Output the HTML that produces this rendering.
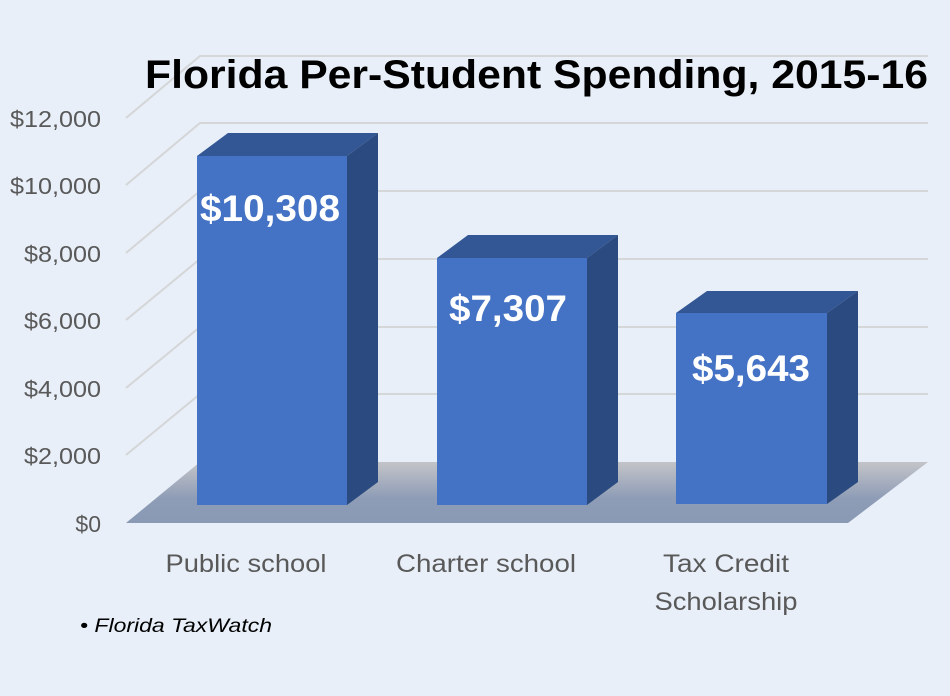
<!DOCTYPE html>
<html><head><meta charset="utf-8"><style>
html,body{margin:0;padding:0;background:#e8eff8;}
svg{display:block;}
</style></head><body>
<svg width="950" height="696" viewBox="0 0 950 696" xmlns="http://www.w3.org/2000/svg">
<defs>
<linearGradient id="fl" x1="0" y1="0" x2="0" y2="1">
<stop offset="0" stop-color="#c3c4c8"/>
<stop offset="0.6" stop-color="#8e9cb6"/>
<stop offset="1" stop-color="#8a9ab4"/>
</linearGradient>
</defs>
<rect width="950" height="696" fill="#e8eff8"/>
<polygon points="126,523 200,462 928,462 848,523" fill="url(#fl)"/>
<g stroke="#d4d6d8" stroke-width="2" fill="none">
<polyline points="126,455 200,394 928,394"/>
<polyline points="126,388 200,327 928,327"/>
<polyline points="126,320 200,259 928,259"/>
<polyline points="126,253 200,191 928,191"/>
<polyline points="126,185 200,123 928,123"/>
<polyline points="126,118 200,56 928,56"/>
</g>
<text x="145" y="88" font-family="Liberation Sans, sans-serif" font-weight="bold" font-size="40" textLength="783" lengthAdjust="spacingAndGlyphs" fill="#000">Florida Per-Student Spending, 2015-16</text>
<g font-family="Liberation Sans, sans-serif" font-size="23" fill="#595959" text-anchor="end">
<text x="101" y="127" textLength="91" lengthAdjust="spacingAndGlyphs">$12,000</text>
<text x="101" y="194" textLength="91" lengthAdjust="spacingAndGlyphs">$10,000</text>
<text x="101" y="262" textLength="77" lengthAdjust="spacingAndGlyphs">$8,000</text>
<text x="101" y="329" textLength="77" lengthAdjust="spacingAndGlyphs">$6,000</text>
<text x="101" y="397" textLength="77" lengthAdjust="spacingAndGlyphs">$4,000</text>
<text x="101" y="464" textLength="77" lengthAdjust="spacingAndGlyphs">$2,000</text>
<text x="101" y="532">$0</text>
</g>
<g>
<polygon points="197,156 228,133 378,133 347,156" fill="#335694"/>
<polygon points="347,156 378,133 378,482 347,505" fill="#2a4a80"/>
<rect x="197" y="156" width="150" height="349" fill="#4472c4"/>
<polygon points="437,258 468,235 618,235 587,258" fill="#335694"/>
<polygon points="587,258 618,235 618,482 587,505" fill="#2a4a80"/>
<rect x="437" y="258" width="150" height="247" fill="#4472c4"/>
<polygon points="676,313 707,291 858,291 827,313" fill="#335694"/>
<polygon points="827,313 858,291 858,482 827,504" fill="#2a4a80"/>
<rect x="676" y="313" width="151" height="191" fill="#4472c4"/>
</g>
<g font-family="Liberation Sans, sans-serif" font-weight="bold" font-size="37" fill="#fff" text-anchor="middle">
<text x="270" y="221" textLength="140" lengthAdjust="spacingAndGlyphs">$10,308</text>
<text x="508" y="321" textLength="118" lengthAdjust="spacingAndGlyphs">$7,307</text>
<text x="751" y="381" textLength="118" lengthAdjust="spacingAndGlyphs">$5,643</text>
</g>
<g font-family="Liberation Sans, sans-serif" font-size="25" fill="#595959" text-anchor="middle">
<text x="246" y="572" textLength="161" lengthAdjust="spacingAndGlyphs">Public school</text>
<text x="486" y="572" textLength="180" lengthAdjust="spacingAndGlyphs">Charter school</text>
<text x="726" y="572" textLength="126" lengthAdjust="spacingAndGlyphs">Tax Credit</text>
<text x="726" y="610" textLength="143" lengthAdjust="spacingAndGlyphs">Scholarship</text>
</g>
<text x="80" y="632" font-family="Liberation Sans, sans-serif" font-size="19" font-style="italic" fill="#000" textLength="192" lengthAdjust="spacingAndGlyphs">• Florida TaxWatch</text>
</svg>
</body></html>
